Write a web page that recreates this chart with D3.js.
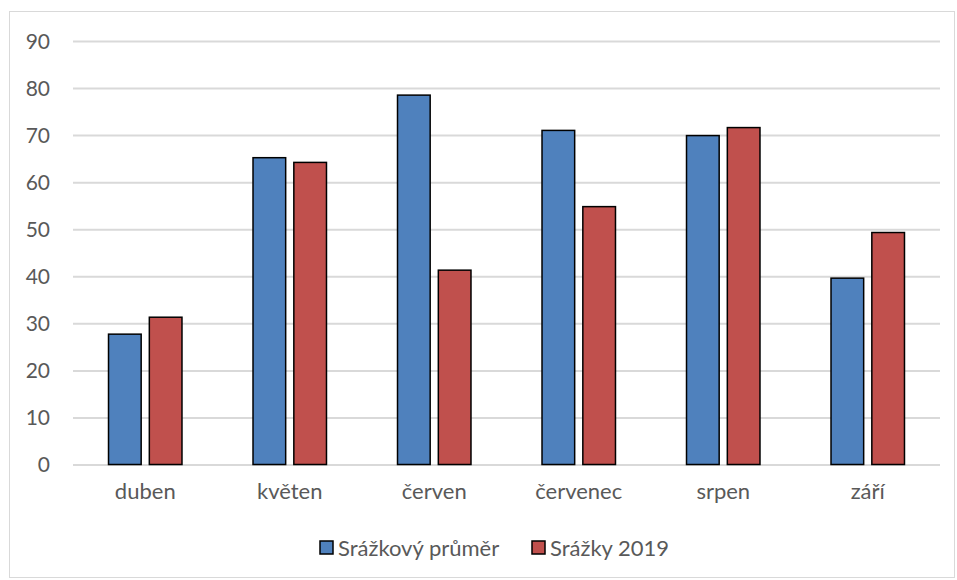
<!DOCTYPE html>
<html><head><meta charset="utf-8">
<script src="https://cdn.jsdelivr.net/npm/d3@7"></script>
<style>body{margin:0;background:#fff;} text{font-family:Lato,"Open Sans",sans-serif;}</style>
</head><body><svg id="c" width="957" height="580"></svg>
<script>
const categories = ["duben","květen","červen","červenec","srpen","září"];
const seriesNames = ["Srážkový průměr","Srážky 2019"];
const avgValues = [27.7, 65.2, 78.5, 71.0, 69.9, 39.6];
const values2019 = [31.3, 64.2, 41.3, 54.8, 71.6, 49.3];
const yTicks = [0,10,20,30,40,50,60,70,80,90];
const colors = ["#4f81bd","#c0504d"];

(function(){
const svg = d3.select("#c");
svg.append("rect").attr("x",9.5).attr("y",11.5).attr("width",945).attr("height",566)
  .attr("fill","#fff").attr("stroke","#d9d9d9").attr("stroke-width",1);

const pL=73, pR=940, pT=41, pB=464.5;
const x = d3.scaleBand().domain(categories).range([pL,pR]);
const xs = d3.scaleBand().domain(seriesNames).range([0,x.bandwidth()]).paddingInner(0.2).paddingOuter(0.87);
const y = d3.scaleLinear().domain([0,90]).range([pB,pT]);

const ga = svg.append("g").attr("transform",`translate(${pL},0)`)
  .call(d3.axisLeft(y).tickValues(yTicks).tickSize(-(pR-pL)).tickPadding(23));
ga.select(".domain").remove();
ga.selectAll(".tick line").attr("stroke","#d9d9d9").attr("stroke-width",2);
ga.selectAll(".tick text").attr("fill","#595959").style("font-size","21px").attr("dy","0.35em");

const data = categories.map((c,i)=>({c, v:[avgValues[i], values2019[i]]}));
const groups = svg.append("g").selectAll("g").data(data).join("g")
  .attr("transform",d=>`translate(${x(d.c)},0)`);
groups.selectAll("rect").data(d=>d.v.map((v,j)=>({v,s:seriesNames[j],j}))).join("rect")
  .attr("x",d=>xs(d.s)).attr("width",xs.bandwidth())
  .attr("y",d=>y(d.v)).attr("height",d=>pB-y(d.v))
  .attr("fill",d=>colors[d.j]).attr("stroke","#000").attr("stroke-width",1.5);

const gx = svg.append("g").attr("transform",`translate(0,${pB})`)
  .call(d3.axisBottom(x).tickSize(0).tickPadding(19));
gx.select(".domain").remove();
gx.selectAll(".tick text").attr("fill","#595959").style("font-size","22px");

const leg = svg.append("g");
const legX = [320, 532];
seriesNames.forEach((s,i)=>{
  leg.append("rect").attr("x",legX[i]).attr("y",541).attr("width",13).attr("height",13)
    .attr("fill",colors[i]).attr("stroke","#000").attr("stroke-width",1.5);
  leg.append("text").attr("x",legX[i]+18).attr("y",548).attr("dy","0.35em")
    .attr("fill","#595959").style("font-size","22px").text(s);
});
})();
</script></body></html>
